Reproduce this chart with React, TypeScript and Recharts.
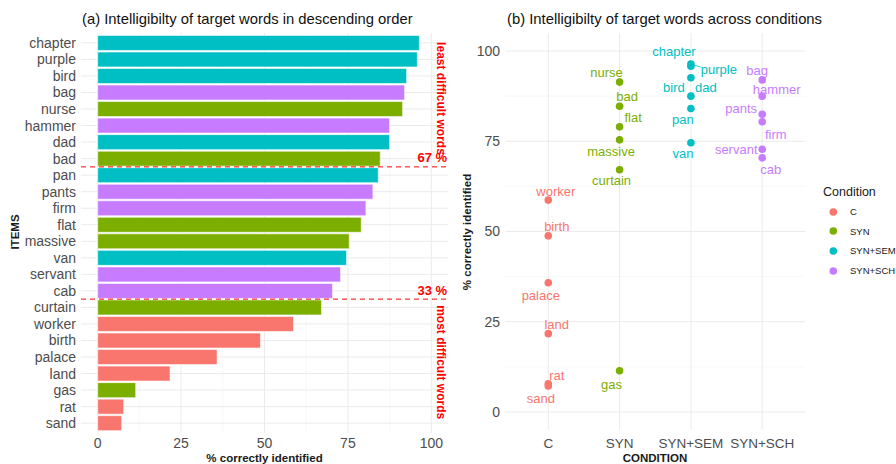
import React from 'react';
import {
  BarChart,
  Bar,
  Cell,
  XAxis,
  YAxis,
  CartesianGrid,
  ReferenceLine,
  ScatterChart,
  Scatter,
  Legend,
} from 'recharts';

// ---- data ---------------------------------------------------------------
const words = [
  'chapter', 'purple', 'bird', 'bag', 'nurse', 'hammer', 'dad', 'bad',
  'pan', 'pants', 'firm', 'flat', 'massive', 'van', 'servant', 'cab',
  'curtain', 'worker', 'birth', 'palace', 'land', 'gas', 'rat', 'sand',
];
const scores = [
  96.4, 95.8, 92.6, 92.0, 91.4, 87.5, 87.5, 84.7,
  84.1, 82.5, 80.4, 79.0, 75.4, 74.6, 72.8, 70.4,
  67.1, 58.7, 48.8, 35.8, 21.7, 11.4, 7.8, 7.2,
];
const wordConditions = [
  'SYN+SEM', 'SYN+SEM', 'SYN+SEM', 'SYN+SCH', 'SYN', 'SYN+SCH', 'SYN+SEM', 'SYN',
  'SYN+SEM', 'SYN+SCH', 'SYN+SCH', 'SYN', 'SYN', 'SYN+SEM', 'SYN+SCH', 'SYN+SCH',
  'SYN', 'C', 'C', 'C', 'C', 'SYN', 'C', 'C',
];
const conditionNames = ['C', 'SYN', 'SYN+SEM', 'SYN+SCH'];
const conditionColors = ['#F8766D', '#7CAE00', '#00BFC4', '#C77CFF'];
const scoreTicks = [0, 25, 50, 75, 100];
const minorScoreTicks = [12.5, 37.5, 62.5, 87.5];
const conditionTicks = [1, 2, 3, 4];
// difficulty cut-offs: first word below each line
const cutoffs = [
  { word: 'pan', pct: '67 %', band: 'least difficult words', bandShift: -68.4 },
  { word: 'curtain', pct: '33 %', band: 'most difficult words', bandShift: 63 },
];

// ---- derived tables -----------------------------------------------------
const colorOf = (c: string) => conditionColors[conditionNames.indexOf(c)];

const barRows = words.map((w, i) => ({
  word: w,
  score: scores[i],
  condition: wordConditions[i],
}));

const pointSeries = conditionNames.map((c, k) => ({
  name: c,
  color: conditionColors[k],
  points: barRows
    .filter((r) => r.condition === c)
    .map((r) => ({ word: r.word, score: r.score, pos: k + 1 })),
}));

// label placement (offset of the label centre from its point, px)
const labelNudge: Record<string, [number, number]> = {
  chapter: [-17, -13], purple: [28, 3], bird: [-17, 10], dad: [15, -9],
  pan: [-8, 11.5], van: [-8, 11], nurse: [-13, -10], bad: [7.5, -9.5],
  flat: [13.5, -9.5], massive: [-8.5, 12], curtain: [-8, 11], gas: [-8, 13.5],
  worker: [7.5, -9], birth: [8.5, -9], palace: [-7.5, 13], land: [8.5, -9],
  rat: [8.5, -8.5], sand: [-7.5, 12.5], bag: [-5, -9], hammer: [14.5, -7],
  pants: [-21, -6], firm: [13.5, 12.5], servant: [-26, 0], cab: [8.5, 12],
};

const FONT = '"Liberation Sans", Arial, Helvetica, sans-serif';
const TICK_GREY = '#4D4D4D';
const GRID_MAJOR = '#EBEBEB';
const GRID_MINOR = '#F4F4F4';
const NOTE_RED = '#FF0000';

// ---- custom pieces ------------------------------------------------------
const makeCutShape = (pct: string, band: string, bandShift: number) => (p: any) => {
  const { x1, y1, x2, y2 } = p;
  return (
    <g>
      <line x1={x1} y1={y1} x2={x2} y2={y2} stroke={NOTE_RED} strokeWidth={1} strokeDasharray="5 4" />
      <text x={x2 - 30.5} y={y1 - 4.5} fill={NOTE_RED} fontSize={13} fontWeight="bold" fontFamily={FONT}>
        {pct}
      </text>
      <text
        x={x2 - 7}
        y={y1 + bandShift}
        fill={NOTE_RED}
        fontSize={12}
        fontWeight="bold"
        fontFamily={FONT}
        textAnchor="middle"
        dominantBaseline="central"
        transform={`rotate(90 ${x2 - 7} ${y1 + bandShift})`}
      >
        {band}
      </text>
    </g>
  );
};

const makePointShape = (color: string) => (p: any) => {
  const word: string = p.payload?.word ?? '';
  const [dx, dy] = labelNudge[word] ?? [0, -10];
  return (
    <g>
      <circle cx={p.cx} cy={p.cy} r={3.8} fill={color} />
      {word === 'purple' && (
        <line x1={p.cx + 4} y1={p.cy - 1} x2={p.cx + 10} y2={p.cy + 1} stroke={color} strokeWidth={0.8} />
      )}
      <text
        x={p.cx + dx}
        y={p.cy + dy}
        fill={color}
        fontSize={13}
        fontFamily={FONT}
        textAnchor="middle"
        dominantBaseline="central"
      >
        {word}
      </text>
    </g>
  );
};

const ConditionKey = (props: any) => {
  const payload = [...(props.payload ?? [])].sort(
    (a: any, b: any) => conditionNames.indexOf(a.value) - conditionNames.indexOf(b.value),
  );
  return (
    <div style={{ fontFamily: FONT, color: '#1A1A1A', width: 80 }}>
      <div style={{ fontSize: 12.5, lineHeight: '16px', height: 16, marginBottom: 2, whiteSpace: 'nowrap' }}>Condition</div>
      {payload.map((e: any) => (
        <div key={e.value} style={{ display: 'flex', alignItems: 'center', height: 19.7 }}>
          <svg width={20} height={12} style={{ display: 'block' }}>
            <circle cx={10.3} cy={6} r={3.8} fill={e.color} />
          </svg>
          <span style={{ fontSize: 9.5, marginLeft: 7, whiteSpace: 'nowrap' }}>{e.value}</span>
        </div>
      ))}
    </div>
  );
};

const titleStyle = (left: number): React.CSSProperties => ({
  position: 'absolute',
  left,
  top: 11.8,
  fontSize: 14.8,
  lineHeight: '14.8px',
  color: '#111',
  whiteSpace: 'nowrap',
});

const axisTitle: React.CSSProperties = {
  position: 'absolute',
  fontSize: 11.5,
  lineHeight: '11.5px',
  fontWeight: 'bold',
  color: '#1A1A1A',
  whiteSpace: 'nowrap',
};

export default function App() {
  return (
    <div
      style={{
        position: 'absolute',
        left: 0,
        top: 0,
        width: 896,
        height: 464,
        background: '#fff',
        fontFamily: FONT,
        overflow: 'hidden',
      }}
    >
      {/* (a) ranked bar chart */}
      <div style={{ position: 'absolute', left: 0, top: 0 }}>
        <BarChart
          width={450}
          height={464}
          data={barRows}
          layout="vertical"
          margin={{ top: 33, right: 2, bottom: 0, left: 0 }}
          barCategoryGap="5%"
        >
          <CartesianGrid stroke={GRID_MINOR} strokeWidth={0.6} horizontal={false} verticalValues={minorScoreTicks} />
          <CartesianGrid stroke={GRID_MAJOR} strokeWidth={1} syncWithTicks />
          <XAxis
            type="number"
            dataKey="score"
            domain={[-5, 105]}
            ticks={scoreTicks}
            allowDataOverflow
            axisLine={false}
            tickLine={false}
            tickSize={0}
            tickMargin={5}
            height={31}
            interval={0}
            tick={{ fill: TICK_GREY, fontSize: 14, fontFamily: FONT }}
          />
          <YAxis
            type="category"
            dataKey="word"
            width={81}
            axisLine={false}
            tickLine={false}
            tickSize={0}
            tickMargin={5}
            interval={0}
            padding={{ top: 1.6, bottom: 1.6 }}
            tick={{ fill: TICK_GREY, fontSize: 14, fontFamily: FONT }}
          />
          <Bar dataKey="score" isAnimationActive={false} stroke="#ffffff" strokeOpacity={0.6} strokeWidth={1}>
            {barRows.map((r) => (
              <Cell key={r.word} fill={colorOf(r.condition)} />
            ))}
          </Bar>
          {cutoffs.map((c) => (
            <ReferenceLine
              key={c.word}
              y={c.word}
              position="start"
              ifOverflow="visible"
              stroke={NOTE_RED}
              shape={makeCutShape(c.pct, c.band, c.bandShift)}
            />
          ))}
        </BarChart>
      </div>

      {/* (b) scores by condition */}
      <div style={{ position: 'absolute', left: 450, top: 0 }}>
        <ScatterChart width={446} height={464} margin={{ top: 33, right: 91, bottom: 0, left: 0 }}>
          <CartesianGrid stroke={GRID_MINOR} strokeWidth={0.6} vertical={false} horizontalValues={minorScoreTicks} />
          <CartesianGrid stroke={GRID_MAJOR} strokeWidth={1} syncWithTicks />
          <XAxis
            type="number"
            dataKey="pos"
            domain={[0.4, 4.6]}
            ticks={conditionTicks}
            tickFormatter={(v: number) => conditionNames[v - 1]}
            allowDataOverflow
            axisLine={false}
            tickLine={false}
            tickSize={0}
            tickMargin={8}
            height={34}
            interval={0}
            tick={{ fill: TICK_GREY, fontSize: 13.5, fontFamily: FONT }}
          />
          <YAxis
            type="number"
            dataKey="score"
            domain={[-5, 105]}
            ticks={scoreTicks}
            allowDataOverflow
            axisLine={false}
            tickLine={false}
            tickSize={0}
            tickMargin={5.5}
            width={55.5}
            interval={0}
            tick={{ fill: TICK_GREY, fontSize: 14, fontFamily: FONT }}
          />
          <Legend
            layout="horizontal"
            align="center"
            verticalAlign="middle"
            wrapperStyle={{ left: 373, top: 183.7, width: 80 }}
            content={<ConditionKey />}
          />
          {pointSeries.map((s) => (
            <Scatter
              key={s.name}
              name={s.name}
              data={s.points}
              fill={s.color}
              isAnimationActive={false}
              shape={makePointShape(s.color)}
            />
          ))}
        </ScatterChart>
      </div>

      {/* titles */}
      <div style={titleStyle(82)}>(a) Intelligibilty of target words in descending order</div>
      <div style={titleStyle(507)}>(b) Intelligibilty of target words across conditions</div>

      {/* axis titles */}
      <div style={{ ...axisTitle, left: 16, top: 232, transform: 'translate(-50%, -50%) rotate(-90deg)' }}>ITEMS</div>
      <div style={{ ...axisTitle, left: 64.5, width: 400, top: 453.3, textAlign: 'center' }}>% correctly identified</div>
      <div style={{ ...axisTitle, left: 468, top: 232, transform: 'translate(-50%, -50%) rotate(-90deg)' }}>
        % correctly identified
      </div>
      <div style={{ ...axisTitle, left: 455, width: 400, top: 453.3, textAlign: 'center' }}>CONDITION</div>
    </div>
  );
}
